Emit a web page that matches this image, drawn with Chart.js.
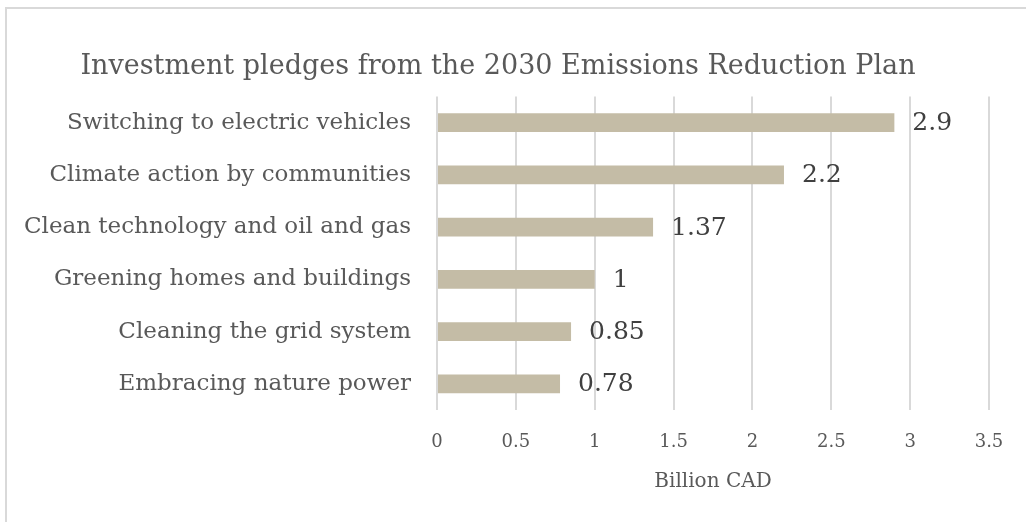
<!DOCTYPE html>
<html>
<head>
<meta charset="utf-8">
<script src="https://cdn.jsdelivr.net/npm/chart.js@4"></script>
<style>
  body { margin: 0; background: #fff; overflow: hidden; }
  #box {
    position: absolute; left: 5px; top: 7px;
    width: 1019px; height: 513px;
    border-left: 2px solid #d9d9d9; border-top: 2px solid #d9d9d9;
  }
</style>
</head>
<body>
<div id="box"><canvas id="myChart" width="1019" height="513"></canvas></div>
<script>
'use strict';
const categories = [
  'Switching to electric vehicles',
  'Climate action by communities',
  'Clean technology and oil and gas',
  'Greening homes and buildings',
  'Cleaning the grid system',
  'Embracing nature power',
];
const pledges = [2.9, 2.2, 1.37, 1, 0.85, 0.78];
const xTicks = [0, 0.5, 1, 1.5, 2, 2.5, 3, 3.5];

const FONT = 'DejaVu Serif';

// draws the value next to each bar
const valueLabels = {
  id: 'valueLabels',
  afterDatasetsDraw(chart) {
    const ctx = chart.ctx;
    const meta = chart.getDatasetMeta(0);
    ctx.save();
    ctx.font = '25px "' + FONT + '"';
    ctx.fillStyle = '#404040';
    ctx.textAlign = 'left';
    ctx.textBaseline = 'middle';
    meta.data.forEach((bar, i) => {
      ctx.fillText(String(pledges[i]), bar.x + 18, bar.y + 1);
    });
    ctx.restore();
  }
};

let ctx = document.getElementById('myChart').getContext('2d');
let chart = new Chart(ctx, {
  type: 'bar',
  data: {
    labels: categories,
    datasets: [{
      label: 'Billion CAD',
      backgroundColor: '#c4bca6',
      data: pledges,
      categoryPercentage: 1,
      barPercentage: 0.36
    }]
  },
  options: {
    indexAxis: 'y',
    responsive: false,
    animation: false,
    layout: { padding: { right: 37, bottom: 24 } },
    plugins: {
      legend: { display: false },
      tooltip: { enabled: false },
      title: {
        display: true,
        text: 'Investment pledges from the 2030 Emissions Reduction Plan',
        color: '#595959',
        font: { family: FONT, size: 27, weight: 'normal' },
        padding: { top: 42, bottom: 13 }
      }
    },
    scales: {
      x: {
        min: 0,
        max: 3.5,
        afterBuildTicks(scale) {
          scale.ticks = xTicks.map(v => ({ value: v }));
        },
        afterFit(scale) { scale.height = 88; },
        grid: { color: '#d9d9d9', lineWidth: 2, drawTicks: false },
        border: { display: false },
        ticks: {
          color: '#595959',
          padding: 22,
          font: { family: FONT, size: 18 },
          callback: (v) => String(v)
        },
        title: {
          display: true,
          text: 'Billion CAD',
          color: '#595959',
          font: { family: FONT, size: 20 },
          padding: { top: 15 }
        }
      },
      y: {
        afterFit(scale) { scale.width = 430; },
        grid: { display: false, drawTicks: false },
        border: { display: false },
        ticks: {
          color: '#595959',
          padding: 26,
          font: { family: FONT, size: 23 }
        }
      }
    }
  },
  plugins: [valueLabels]
});
</script>
</body>
</html>
